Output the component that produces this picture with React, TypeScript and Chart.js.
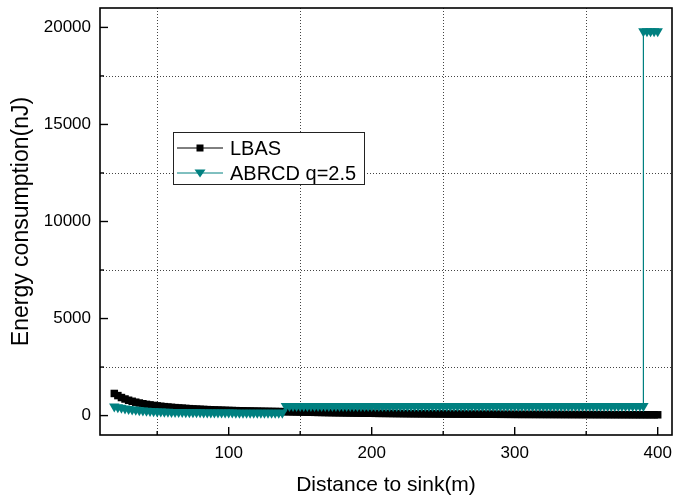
import React, { useEffect, useRef } from "react";
import { Chart, registerables } from "chart.js";

Chart.register(...registerables);

// ---- data ----
const distance: number[] = [
  20, 22.5, 25, 27.5, 30, 32.5, 35, 37.5, 40, 42.5, 45, 47.5, 50, 52.5, 55, 57.5,
  60, 62.5, 65, 67.5, 70, 72.5, 75, 77.5, 80, 82.5, 85, 87.5, 90, 92.5, 95, 97.5,
  100, 102.5, 105, 107.5, 110, 112.5, 115, 117.5, 120, 122.5, 125, 127.5, 130, 132.5, 135, 137.5,
  140, 142.5, 145, 147.5, 150, 152.5, 155, 157.5, 160, 162.5, 165, 167.5, 170, 172.5, 175, 177.5,
  180, 182.5, 185, 187.5, 190, 192.5, 195, 197.5, 200, 202.5, 205, 207.5, 210, 212.5, 215, 217.5,
  220, 222.5, 225, 227.5, 230, 232.5, 235, 237.5, 240, 242.5, 245, 247.5, 250, 252.5, 255, 257.5,
  260, 262.5, 265, 267.5, 270, 272.5, 275, 277.5, 280, 282.5, 285, 287.5, 290, 292.5, 295, 297.5,
  300, 302.5, 305, 307.5, 310, 312.5, 315, 317.5, 320, 322.5, 325, 327.5, 330, 332.5, 335, 337.5,
  340, 342.5, 345, 347.5, 350, 352.5, 355, 357.5, 360, 362.5, 365, 367.5, 370, 372.5, 375, 377.5,
  380, 382.5, 385, 387.5, 390, 392.5, 395, 397.5, 400,
];

const lbas: number[] = [
  1140, 1030, 930, 855, 790, 737, 690, 648, 610, 578, 550, 524, 500, 480, 460, 442,
  425, 410, 395, 382, 370, 357, 345, 335, 325, 316, 308, 300, 292, 285, 278, 271,
  265, 260, 255, 250, 245, 240, 236, 232, 228, 224, 221, 217, 214, 211, 208, 204,
  200, 196, 192, 188, 184, 180, 176, 172, 168, 164, 161, 157, 154, 150, 147, 144,
  141, 138, 135, 132, 129, 126, 124, 121, 119, 116, 114, 112, 110, 108, 106, 104,
  102, 100, 98, 96, 95, 93, 92, 90, 89, 87, 86, 84, 83, 81, 80, 79,
  78, 77, 76, 75, 74, 73, 72, 71, 70, 69, 68, 67, 66, 65, 64, 63,
  62, 61, 60, 60, 59, 59, 58, 58, 57, 57, 56, 56, 55, 55, 54, 54,
  53, 53, 52, 52, 51, 51, 50, 50, 49, 49, 48, 48, 47, 47, 46, 46,
  45, 45, 44, 44, 43, 43, 42, 42, 41,
];

const abrcdDistance: number[] = [
  20, 22.5, 25, 27.5, 30, 32.5, 35, 37.5, 40, 42.5, 45, 47.5, 50, 52.5, 55, 57.5,
  60, 62.5, 65, 67.5, 70, 72.5, 75, 77.5, 80, 82.5, 85, 87.5, 90, 92.5, 95, 97.5,
  100, 102.5, 105, 107.5, 110, 112.5, 115, 117.5, 120, 122.5, 125, 127.5, 130, 132.5, 135, 137.5,
  140, 142.5, 145, 147.5, 150, 152.5, 155, 157.5, 160, 162.5, 165, 167.5, 170, 172.5, 175, 177.5,
  180, 182.5, 185, 187.5, 190, 192.5, 195, 197.5, 200, 202.5, 205, 207.5, 210, 212.5, 215, 217.5,
  220, 222.5, 225, 227.5, 230, 232.5, 235, 237.5, 240, 242.5, 245, 247.5, 250, 252.5, 255, 257.5,
  260, 262.5, 265, 267.5, 270, 272.5, 275, 277.5, 280, 282.5, 285, 287.5, 290, 292.5, 295, 297.5,
  300, 302.5, 305, 307.5, 310, 312.5, 315, 317.5, 320, 322.5, 325, 327.5, 330, 332.5, 335, 337.5,
  340, 342.5, 345, 347.5, 350, 352.5, 355, 357.5, 360, 362.5, 365, 367.5, 370, 372.5, 375, 377.5,
  380, 382.5, 385, 387.5, 390, 390, 392.5, 395, 397.5, 400,
];

const abrcd: number[] = [
  470, 432, 400, 368, 340, 316, 295, 277, 260, 247, 235, 225, 215, 207, 200, 195,
  190, 186, 182, 179, 176, 173, 171, 169, 167, 165, 163, 161, 160, 158, 157, 156,
  155, 153, 152, 151, 150, 149, 148, 147, 146, 145, 144, 143, 142, 141, 140, 140,
  500, 500, 500, 500, 500, 500, 500, 500, 500, 500, 500, 500, 500, 500, 500, 500,
  500, 500, 500, 500, 500, 500, 500, 500, 500, 500, 500, 500, 500, 500, 500, 500,
  500, 500, 500, 500, 500, 500, 500, 500, 500, 500, 500, 500, 500, 500, 500, 500,
  500, 500, 500, 500, 500, 500, 500, 500, 500, 500, 500, 500, 500, 500, 500, 500,
  500, 500, 500, 500, 500, 500, 500, 500, 500, 500, 500, 500, 500, 500, 500, 500,
  500, 500, 500, 500, 500, 500, 500, 500, 500, 500, 500, 500, 500, 500, 500, 500,
  500, 500, 500, 500, 500, 19800, 19800, 19800, 19800, 19800,
];

const xTickValues: number[] = [100, 200, 300, 400];
const xMinorValues: number[] = [50, 150, 250, 350];
const yTickValues: number[] = [0, 5000, 10000, 15000, 20000];
const yMinorValues: number[] = [2500, 7500, 12500, 17500];

const seriesNames: string[] = ["LBAS", "ABRCD q=2.5"];
const xTitle = "Distance to sink(m)";
const yTitle = "Energy consumption(nJ)";

const FONT = "'Liberation Sans', Arial, sans-serif";
const TEAL = "#008080";

const framePlugin = {
  id: "originFrame",
  beforeDatasetsDraw(chart: any) {
    const { ctx, chartArea } = chart;
    const xs = chart.scales.x;
    const ys = chart.scales.y;
    ctx.save();
    ctx.strokeStyle = "#444";
    ctx.lineWidth = 1;
    ctx.setLineDash([1, 2]);
    xMinorValues.forEach((v) => {
      const px = Math.round(xs.getPixelForValue(v)) + 0.5;
      ctx.beginPath();
      ctx.moveTo(px, chartArea.top);
      ctx.lineTo(px, chartArea.bottom);
      ctx.stroke();
    });
    yMinorValues.forEach((v) => {
      const py = Math.round(ys.getPixelForValue(v)) + 0.5;
      ctx.beginPath();
      ctx.moveTo(chartArea.left, py);
      ctx.lineTo(chartArea.right, py);
      ctx.stroke();
    });
    ctx.restore();
  },
  afterDatasetsDraw(chart: any) {
    const { ctx, chartArea } = chart;
    const xs = chart.scales.x;
    const ys = chart.scales.y;
    const { left, right, top, bottom } = chartArea;
    ctx.save();
    ctx.setLineDash([]);
    ctx.strokeStyle = "#000";
    ctx.lineWidth = 1.6;
    ctx.strokeRect(left, top, right - left, bottom - top);
    ctx.lineWidth = 1.4;
    // inward ticks
    xTickValues.forEach((v) => {
      const px = xs.getPixelForValue(v);
      ctx.beginPath();
      ctx.moveTo(px, bottom);
      ctx.lineTo(px, bottom - 8);
      ctx.stroke();
    });
    xMinorValues.forEach((v) => {
      const px = xs.getPixelForValue(v);
      ctx.beginPath();
      ctx.moveTo(px, bottom);
      ctx.lineTo(px, bottom - 4);
      ctx.stroke();
    });
    yTickValues.forEach((v) => {
      const py = ys.getPixelForValue(v);
      ctx.beginPath();
      ctx.moveTo(left, py);
      ctx.lineTo(left + 8, py);
      ctx.stroke();
    });
    yMinorValues.forEach((v) => {
      const py = ys.getPixelForValue(v);
      ctx.beginPath();
      ctx.moveTo(left, py);
      ctx.lineTo(left + 4, py);
      ctx.stroke();
    });

    // legend box
    const bx = 173, by = 132, bw = 191, bh = 52;
    ctx.fillStyle = "#fff";
    ctx.fillRect(bx, by, bw, bh);
    ctx.strokeStyle = "#222";
    ctx.lineWidth = 1;
    ctx.strokeRect(bx + 0.5, by + 0.5, bw, bh);
    const rows = [148, 173];
    chart.data.datasets.forEach((ds: any, i: number) => {
      const yy = rows[i];
      ctx.strokeStyle = ds.borderColor;
      ctx.lineWidth = 1;
      ctx.beginPath();
      ctx.moveTo(177, yy);
      ctx.lineTo(223, yy);
      ctx.stroke();
      ctx.fillStyle = ds.backgroundColor;
      if (i === 0) {
        ctx.fillRect(196.5, yy - 3.5, 7, 7);
      } else {
        ctx.beginPath();
        ctx.moveTo(194.5, yy - 3.5);
        ctx.lineTo(205.5, yy - 3.5);
        ctx.lineTo(200, yy + 4.5);
        ctx.closePath();
        ctx.fill();
      }
      ctx.fillStyle = "#000";
      ctx.font = `20px ${FONT}`;
      ctx.textBaseline = "middle";
      ctx.textAlign = "left";
      ctx.fillText(ds.label, 230, yy + 1);
    });
    ctx.restore();
  },
};

export default function App() {
  const ref = useRef<HTMLCanvasElement | null>(null);
  useEffect(() => {
    if (!ref.current) return;
    const chart = new Chart(ref.current, {
      type: "line",
      data: {
        datasets: [
          {
            label: seriesNames[0],
            data: distance.map((d, i) => ({ x: d, y: lbas[i] })),
            borderColor: "#000",
            backgroundColor: "#000",
            borderWidth: 1,
            pointStyle: "rect",
            pointRadius: 5.3,
            pointBorderWidth: 0,
            tension: 0,
            order: 2,
          },
          {
            label: seriesNames[1],
            data: abrcdDistance.map((d, i) => ({ x: d, y: abrcd[i] })),
            borderColor: TEAL,
            backgroundColor: TEAL,
            borderWidth: 1.2,
            pointStyle: "triangle",
            pointRotation: 180,
            pointRadius: 6,
            pointBorderWidth: 0,
            tension: 0,
            order: 1,
          },
        ],
      },
      options: {
        animation: false,
        responsive: false,
        events: [],
        layout: { autoPadding: false, padding: { top: 8, right: 1, left: 0, bottom: 0 } },
        plugins: { legend: { display: false }, tooltip: { enabled: false } },
        scales: {
          x: {
            type: "linear",
            min: 10,
            max: 410,
            grid: { display: false, drawTicks: false },
            border: { display: false },
            afterBuildTicks: (s: any) => {
              s.ticks = xTickValues.map((v) => ({ value: v }));
            },
            afterFit: (s: any) => {
              s.height = 66;
              s.paddingLeft = 0;
              s.paddingRight = 0;
            },
            ticks: {
              color: "#000",
              font: { family: FONT, size: 17 },
              padding: 8,
              maxRotation: 0,
              autoSkip: false,
              callback: (v: any) => String(v),
            },
            title: {
              display: true,
              text: xTitle,
              color: "#000",
              font: { family: FONT, size: 21 },
              padding: { top: 0, bottom: 3 },
            },
          },
          y: {
            type: "linear",
            min: -1000,
            max: 21000,
            grid: { display: false, drawTicks: false },
            border: { display: false },
            afterBuildTicks: (s: any) => {
              s.ticks = yTickValues.map((v) => ({ value: v }));
            },
            afterFit: (s: any) => {
              s.width = 100;
              s.paddingTop = 0;
              s.paddingBottom = 0;
            },
            ticks: {
              color: "#000",
              font: { family: FONT, size: 17 },
              padding: 9,
              autoSkip: false,
              callback: (v: any) => String(v),
            },
            title: {
              display: true,
              text: yTitle,
              color: "#000",
              font: { family: FONT, size: 23 },
              padding: { top: 8, bottom: 0 },
            },
          },
        },
      },
      plugins: [framePlugin],
    });
    return () => chart.destroy();
  }, []);
  return (
    <div style={{ position: "fixed", left: 0, top: 0, width: 673, height: 501, background: "#fff" }}>
      <canvas ref={ref} width={673} height={501} style={{ width: 673, height: 501, display: "block" }} />
    </div>
  );
}
